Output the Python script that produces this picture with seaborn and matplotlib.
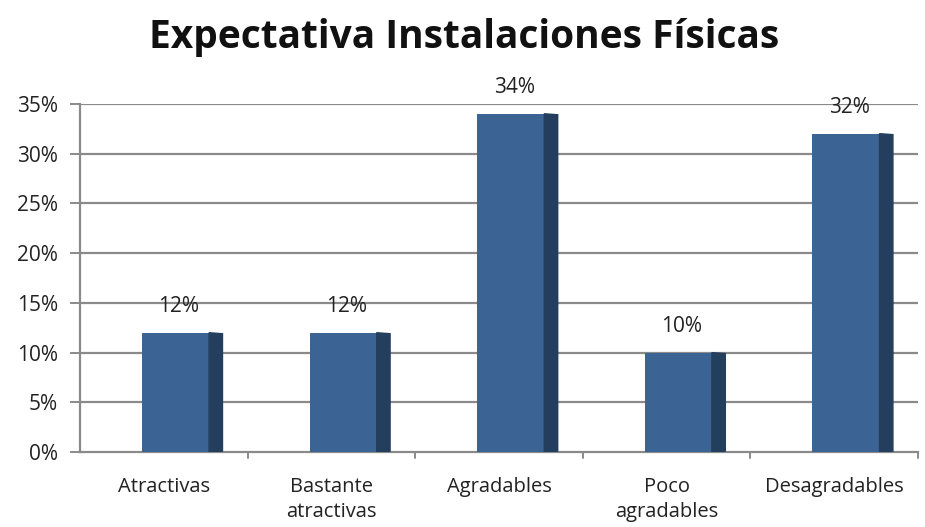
import matplotlib
matplotlib.use("Agg")
import matplotlib.pyplot as plt
import seaborn as sns
from matplotlib.patches import Polygon
from matplotlib.ticker import PercentFormatter

# data
categorias = ['Atractivas', 'Bastante\natractivas', 'Agradables', 'Poco\nagradables', 'Desagradables']
porcentajes = [0.12, 0.12, 0.34, 0.10, 0.32]
etiquetas = ['12%', '12%', '34%', '10%', '32%']

sns.set_theme(style="white")
plt.rcParams['font.family'] = ['Open Sans', 'DejaVu Sans']

fig = plt.figure(figsize=(9.25, 5.27), dpi=100)
ax = fig.add_axes([0.0865, 0.142, 0.906, 0.661])

sns.barplot(x=categorias, y=porcentajes, color='#3B6394', saturation=1,
            width=0.4, ax=ax, zorder=3)

# fake 3D: shift front faces a bit, add dark side face and label
side = 0.08
for p, lab in zip(ax.patches, etiquetas):
    p.set_x(p.get_x() + 0.07)
    p.set_edgecolor('none')
    x0, w, h = p.get_x(), p.get_width(), p.get_height()
    ax.add_patch(Polygon([(x0 + w, 0), (x0 + w + side, 0.001),
                          (x0 + w + side, h - 0.001), (x0 + w, h)],
                         closed=True, color='#243E5E', zorder=3))
    ax.text(x0 + w / 2 + 0.02, h + 0.016, lab, ha='center', va='bottom',
            fontsize=15, color='#222222', clip_on=False)

ax.set_xlim(-0.5, 4.5)
ax.set_ylim(0, 0.35)
ax.set_yticks([0, 0.05, 0.10, 0.15, 0.20, 0.25, 0.30, 0.35])
ax.yaxis.set_major_formatter(PercentFormatter(1.0, decimals=0))

for y in ax.get_yticks()[1:]:
    ax.axhline(y, color='#8a8a8a', lw=1.6, zorder=1)

for s in ['top', 'right']:
    ax.spines[s].set_visible(False)
for s in ['left', 'bottom']:
    ax.spines[s].set_color('#8a8a8a')
    ax.spines[s].set_linewidth(1.6)

ax.tick_params(axis='y', left=True, length=7, width=1.4, color='#8a8a8a',
               labelsize=15, labelcolor='#222222', pad=9)
ax.set_xticks([0, 1, 2, 3, 4])
ax.set_xticklabels(categorias, linespacing=1.3)
ax.tick_params(axis='x', bottom=False, labelsize=14.5, labelcolor='#222222', pad=12)
for xb in [0.5, 1.5, 2.5, 3.5, 4.5]:
    ax.plot([xb, xb], [0, -0.006], color='#8a8a8a', lw=1.4, clip_on=False)
ax.set_xlabel('')
ax.set_ylabel('')

fig.suptitle('Expectativa Instalaciones Físicas', fontsize=28, fontweight='bold',
             x=0.502, y=0.965, color='#111111')

fig.savefig('out.png', dpi=100)
